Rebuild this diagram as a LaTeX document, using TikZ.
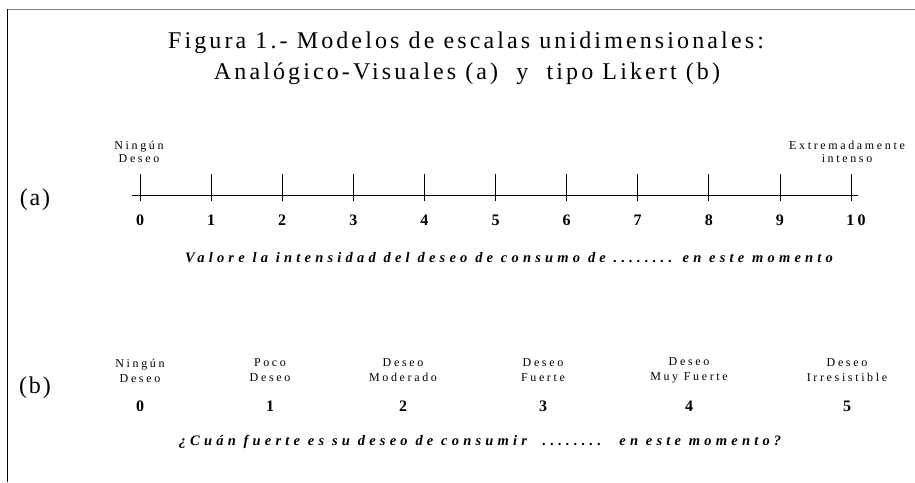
\documentclass[tikz,border=0pt]{standalone}
\usepackage{fontspec}
\setmainfont{Liberation Serif}
\tikzset{
  px/.style={x=1pt,y=-1pt},
  titletext/.style={font=\fontsize{24}{28}\selectfont\addfontfeatures{LetterSpace=13}, inner sep=0pt, anchor=base},
  parttext/.style={font=\fontsize{24}{28}\selectfont\addfontfeatures{LetterSpace=8}, inner sep=0pt, anchor=base},
  smalla/.style={font=\fontsize{12}{13.5}\selectfont\addfontfeatures{LetterSpace=22}, align=center, inner sep=0pt},
  smallb/.style={font=\fontsize{12}{15}\selectfont\addfontfeatures{LetterSpace=22}, align=center, inner sep=0pt},
  numtext/.style={font=\fontsize{16}{18}\selectfont\bfseries\addfontfeatures{LetterSpace=20}, inner sep=0pt, anchor=base},
  sentence/.style={font=\fontsize{14.5}{17}\selectfont\bfseries\itshape\addfontfeatures{LetterSpace=29}, inner sep=0pt, anchor=base},
  axisline/.style={line width=0.7pt},
  tickline/.style={line width=0.7pt},
  framegray/.style={draw=gray, line width=0.8pt},
  frameblack/.style={draw=black, line width=0.8pt}
}
\begin{document}
\begin{tikzpicture}[px]
\useasboundingbox (0,0) rectangle (915,482);
% frame
\coordinate (ftl) at (7,9.5);
\coordinate (ftr) at (915,9.5);
\coordinate (fbl) at (7.5,482);
\coordinate (ftl2) at (7.5,9);
\draw[framegray] (ftl) -- (ftr);
\draw[frameblack] (ftl2) -- (fbl);
% title
\node[titletext] (t1) at (466,48) {Figura 1.- Modelos de escalas unidimensionales:};
\node[titletext] (t2) at (467,79) {Analógico-Visuales (a) \ y \ tipo Likert (b)};
% part labels
\node[parttext] (pa) at (35,205) {(a)};
\node[parttext] (pb) at (35,393) {(b)};
% scale (a)
\coordinate (axL) at (132,195);
\coordinate (axR) at (858,195);
\draw[axisline] (axL) -- (axR);
\foreach \i in {0,...,10} {
  \coordinate (tk\i) at ({140+71.1*\i},174);
  \coordinate (tb\i) at ({140+71.1*\i},201);
  \draw[tickline] (tk\i) -- (tb\i);
}
\foreach \i in {0,...,9} {
  \node[numtext] (na\i) at ({140+71.1*\i},225) {\i};
}
\node[numtext] (na10) at (856,225) {10};
\node[smalla] (la0) at (139,152) {Ningún\\Deseo};
\node[smalla] (la10) at (847,152) {Extremadamente\\intenso};
\node[sentence] (sa) at (509,262) {Valore la intensidad del deseo de consumo de ........ en este momento};
% scale (b)
\node[smallb] (lb0) at (140,370.5) {Ningún\\Deseo};
\node[smallb] (lb1) at (270,370.5) {Poco\\Deseo};
\node[smallb] (lb2) at (403,370.5) {Deseo\\Moderado};
\node[smallb] (lb3) at (543,370.5) {Deseo\\Fuerte};
\node[smallb] (lb4) at (689,370.5) {Deseo\\Muy Fuerte};
\node[smallb] (lb5) at (847,370.5) {Deseo\\Irresistible};
\node[numtext] (nb0) at (140,411) {0};
\node[numtext] (nb1) at (270,411) {1};
\node[numtext] (nb2) at (403,411) {2};
\node[numtext] (nb3) at (543,411) {3};
\node[numtext] (nb4) at (689,411) {4};
\node[numtext] (nb5) at (847,411) {5};
\node[sentence] (sb) at (480,445) {¿Cuán fuerte es su deseo de consumir \ ........ \ en este momento?};
\end{tikzpicture}
\end{document}
